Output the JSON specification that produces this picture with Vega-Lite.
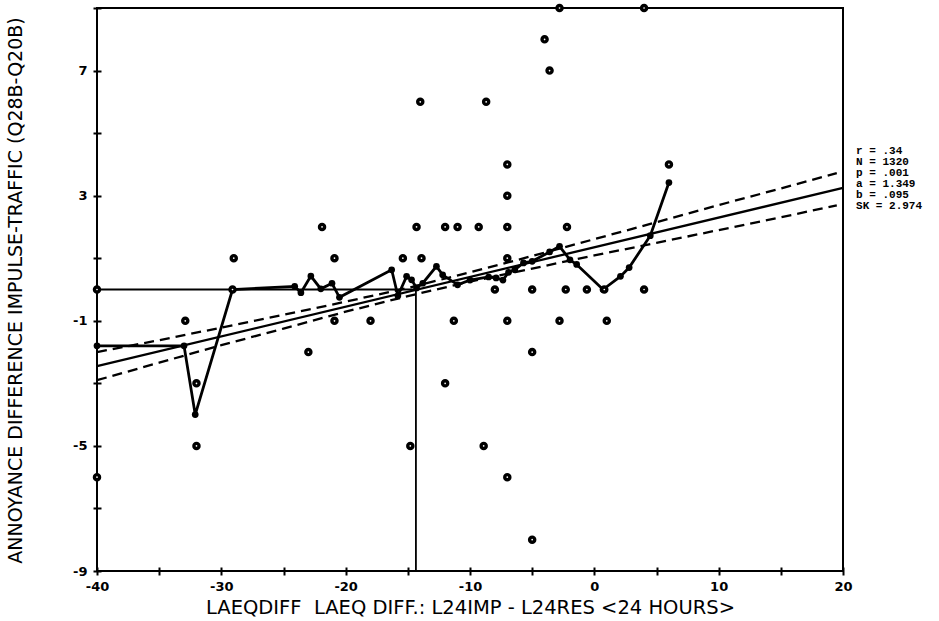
{
  "$schema": "https://vega.github.io/schema/vega-lite/v6.json",
  "width": 746,
  "height": 563,
  "autosize": {"type": "none"},
  "padding": {"left": 97, "top": 8, "right": 96, "bottom": 50},
  "background": "white",
  "config": {"view": {"stroke": "black", "strokeWidth": 2}},
  "datasets": {
    "pts": [
      {"x": -2.8, "y": 9}, {"x": 4.0, "y": 9}, {"x": -4.0, "y": 8}, {"x": -3.6, "y": 7},
      {"x": -14.0, "y": 6}, {"x": -8.7, "y": 6}, {"x": -7.0, "y": 4}, {"x": 6.0, "y": 4}, {"x": -7.0, "y": 3},
      {"x": -21.9, "y": 2}, {"x": -14.3, "y": 2}, {"x": -12.0, "y": 2}, {"x": -11.0, "y": 2}, {"x": -9.3, "y": 2}, {"x": -7.0, "y": 2}, {"x": -2.2, "y": 2},
      {"x": -29.0, "y": 1}, {"x": -20.9, "y": 1}, {"x": -15.4, "y": 1}, {"x": -13.9, "y": 1}, {"x": -7.0, "y": 1},
      {"x": -40, "y": 0}, {"x": -29.1, "y": 0}, {"x": -8.0, "y": 0}, {"x": -5.0, "y": 0}, {"x": -2.3, "y": 0}, {"x": -0.6, "y": 0}, {"x": 0.8, "y": 0}, {"x": 4.0, "y": 0},
      {"x": -32.9, "y": -1}, {"x": -20.9, "y": -1}, {"x": -18.0, "y": -1}, {"x": -11.3, "y": -1}, {"x": -7.0, "y": -1}, {"x": -2.8, "y": -1}, {"x": 1.0, "y": -1},
      {"x": -23.0, "y": -2}, {"x": -5.0, "y": -2},
      {"x": -32.0, "y": -3}, {"x": -12.0, "y": -3},
      {"x": -32.0, "y": -5}, {"x": -14.8, "y": -5}, {"x": -8.9, "y": -5},
      {"x": -40, "y": -6}, {"x": -7.0, "y": -6},
      {"x": -5.0, "y": -8}
    ],
    "run": [
      {"x": -40, "y": -1.8}, {"x": -33, "y": -1.8}, {"x": -32.1, "y": -4.0}, {"x": -29.1, "y": 0},
      {"x": -24.1, "y": 0.1}, {"x": -23.6, "y": -0.1}, {"x": -22.8, "y": 0.43}, {"x": -22.0, "y": 0.02},
      {"x": -21.1, "y": 0.2}, {"x": -20.5, "y": -0.25}, {"x": -16.3, "y": 0.63}, {"x": -15.8, "y": -0.2},
      {"x": -15.1, "y": 0.42}, {"x": -14.7, "y": 0.31}, {"x": -14.3, "y": 0.05}, {"x": -13.8, "y": 0.2},
      {"x": -12.7, "y": 0.74}, {"x": -12.2, "y": 0.47}, {"x": -11.0, "y": 0.15}, {"x": -10.0, "y": 0.3},
      {"x": -8.5, "y": 0.4}, {"x": -7.9, "y": 0.37}, {"x": -7.35, "y": 0.3}, {"x": -6.9, "y": 0.55},
      {"x": -6.4, "y": 0.63}, {"x": -5.7, "y": 0.85}, {"x": -5.0, "y": 0.9}, {"x": -3.6, "y": 1.2},
      {"x": -2.8, "y": 1.38}, {"x": -1.96, "y": 0.95}, {"x": -1.42, "y": 0.8}, {"x": 0.7, "y": 0.0},
      {"x": 2.1, "y": 0.42}, {"x": 2.8, "y": 0.7}, {"x": 4.5, "y": 1.72}, {"x": 6.0, "y": 3.42}
    ],
    "fit": [{"x": -40, "y": -2.45}, {"x": 20, "y": 3.25}],
    "band": [
      {"x": -40, "y": -2.0, "s": "u"}, {"x": -35, "y": -1.62, "s": "u"}, {"x": -30, "y": -1.22, "s": "u"}, {"x": -25, "y": -0.81, "s": "u"},
      {"x": -20, "y": -0.39, "s": "u"}, {"x": -15, "y": 0.05, "s": "u"}, {"x": -10, "y": 0.55, "s": "u"}, {"x": -5, "y": 1.07, "s": "u"},
      {"x": 0, "y": 1.61, "s": "u"}, {"x": 5, "y": 2.15, "s": "u"}, {"x": 10, "y": 2.7, "s": "u"}, {"x": 15, "y": 3.23, "s": "u"}, {"x": 19.5, "y": 3.72, "s": "u"},
      {"x": -40, "y": -2.9, "s": "l"}, {"x": -35, "y": -2.34, "s": "l"}, {"x": -30, "y": -1.78, "s": "l"}, {"x": -25, "y": -1.25, "s": "l"},
      {"x": -20, "y": -0.71, "s": "l"}, {"x": -15, "y": -0.21, "s": "l"}, {"x": -10, "y": 0.25, "s": "l"}, {"x": -5, "y": 0.67, "s": "l"},
      {"x": 0, "y": 1.09, "s": "l"}, {"x": 5, "y": 1.49, "s": "l"}, {"x": 10, "y": 1.9, "s": "l"}, {"x": 15, "y": 2.31, "s": "l"}, {"x": 19.5, "y": 2.69, "s": "l"}
    ],
    "mean": [{"x": -40, "y": 0, "k": 1}, {"x": -14.35, "y": 0, "k": 2}, {"x": -14.35, "y": -9, "k": 3}],
    "stats": [
      {"x": 21.05, "y": 4.43, "t": "\u00a0r = .34"},
      {"x": 21.05, "y": 4.08, "t": "\u00a0N = 1320"},
      {"x": 21.05, "y": 3.73, "t": "\u00a0p = .001"},
      {"x": 21.05, "y": 3.38, "t": "\u00a0a = 1.349"},
      {"x": 21.05, "y": 3.03, "t": "\u00a0b = .095"},
      {"x": 21.05, "y": 2.68, "t": "SK = 2.974"}
    ]
  },
  "encoding": {
    "x": {
      "field": "x", "type": "quantitative",
      "scale": {"domain": [-40, 20], "nice": false, "zero": false},
      "axis": {
        "title": "LAEQDIFF\u00a0\u00a0LAEQ DIFF.: L24IMP - L24RES <24 HOURS>",
        "values": [-40, -35, -30, -25, -20, -15, -10, -5, 0, 5, 10, 15, 20],
        "domain": false, "grid": false, "offset": -4, "tickSize": 8, "tickWidth": 2, "tickColor": "black",
        "labelExpr": "datum.value % 10 == 0 ? '' + datum.value : ''",
        "labelFont": "DejaVu Sans", "labelFontWeight": "bold", "labelFontSize": 13, "labelColor": "black",
        "labelPadding": 5, "labelFlush": false, "labelOverlap": false,
        "titleFont": "DejaVu Sans", "titleFontSize": 19.5, "titleFontWeight": "normal", "titleColor": "black",
        "titleX": 373, "titleY": 40, "titleBaseline": "middle", "titleAlign": "center"
      }
    },
    "y": {
      "field": "y", "type": "quantitative",
      "scale": {"domain": [-9, 9], "nice": false, "zero": false},
      "axis": {
        "title": "ANNOYANCE DIFFERENCE IMPULSE-TRAFFIC (Q28B-Q20B)",
        "values": [-9, -7, -5, -3, -1, 1, 3, 5, 7, 9],
        "domain": false, "grid": false, "offset": -4, "tickSize": 8, "tickWidth": 2, "tickColor": "black",
        "labelExpr": "(datum.value + 9) % 4 == 0 ? '' + datum.value : ''",
        "labelFont": "DejaVu Sans", "labelFontWeight": "bold", "labelFontSize": 13, "labelColor": "black",
        "labelPadding": 6, "labelFlush": false, "labelOverlap": false,
        "titleFont": "DejaVu Sans", "titleFontSize": 19, "titleFontWeight": "normal", "titleColor": "black",
        "titleX": -86, "titleY": 282, "titleAngle": 270, "titleBaseline": "middle", "titleAlign": "center"
      }
    }
  },
  "layer": [
    {"data": {"name": "mean"}, "mark": {"type": "line", "color": "black", "strokeWidth": 1.8}, "encoding": {"order": {"field": "k"}}},
    {"data": {"name": "band"}, "mark": {"type": "line", "color": "black", "strokeWidth": 2.3, "strokeDash": [10, 6]}, "encoding": {"detail": {"field": "s"}}},
    {"data": {"name": "fit"}, "mark": {"type": "line", "color": "black", "strokeWidth": 2.3}, "encoding": {}},
    {"data": {"name": "run"}, "mark": {"type": "line", "color": "black", "strokeWidth": 2.8, "point": {"filled": true, "color": "black", "size": 45}}, "encoding": {"order": {"field": "x"}}},
    {"data": {"name": "pts"}, "mark": {"type": "point", "shape": "circle", "filled": false, "fill": "white", "fillOpacity": 1, "stroke": "black", "strokeWidth": 3.4, "size": 26, "opacity": 1}},
    {"data": {"name": "stats"}, "mark": {"type": "text", "align": "left", "baseline": "middle", "font": "Liberation Mono", "fontWeight": "bold", "fontSize": 11, "color": "black"}, "encoding": {"text": {"field": "t"}}}
  ]
}
